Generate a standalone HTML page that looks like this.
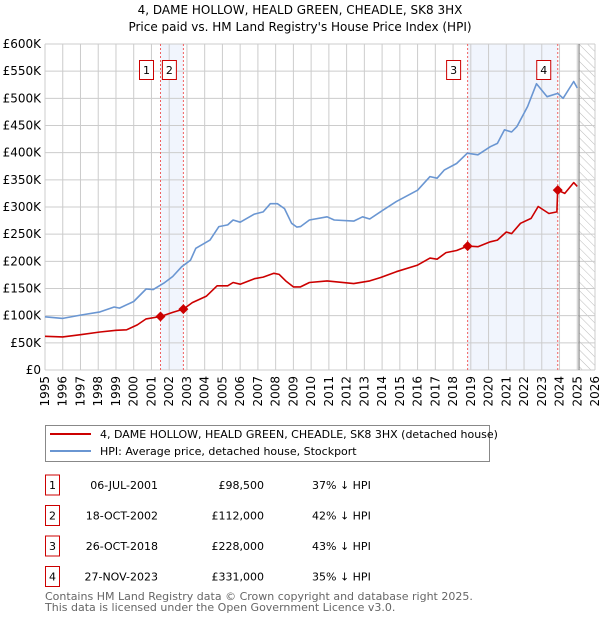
<!DOCTYPE html>
<html><head><meta charset="utf-8"><style>
body{margin:0;background:#fff;font-family:"DejaVu Sans","Liberation Sans",sans-serif;}
svg text{font-family:"DejaVu Sans","Liberation Sans",sans-serif;}
</style></head><body>
<svg id="chart" width="600" height="620" viewBox="0 0 600 620" xmlns="http://www.w3.org/2000/svg">
<defs><pattern id="hatch" width="6" height="6" patternUnits="userSpaceOnUse" patternTransform="rotate(-45)"><line x1="0" y1="0" x2="0" y2="6" stroke="#bbb" stroke-width="1"/></pattern></defs>
<text x="300" y="14" text-anchor="middle" font-size="12">4, DAME HOLLOW, HEALD GREEN, CHEADLE, SK8 3HX</text>
<text x="300" y="31" text-anchor="middle" font-size="12">Price paid vs. HM Land Registry's House Price Index (HPI)</text>
<g id="plot"></g>
<g>
<rect x="45.5" y="425.5" width="444" height="36" fill="#fff" stroke="#888"/>
<line x1="50" y1="434" x2="91" y2="434" stroke="#cc0000" stroke-width="2"/>
<text x="100" y="438" font-size="11">4, DAME HOLLOW, HEALD GREEN, CHEADLE, SK8 3HX (detached house)</text>
<line x1="50" y1="451" x2="91" y2="451" stroke="#6a96d2" stroke-width="2"/>
<text x="100" y="455" font-size="11">HPI: Average price, detached house, Stockport</text>
</g>
<g id="table"></g>
<text x="45" y="600" font-size="11" fill="#666">Contains HM Land Registry data © Crown copyright and database right 2025.</text>
<text x="45" y="611" font-size="11" fill="#666">This data is licensed under the Open Government Licence v3.0.</text>
</svg>
<script>
const hpiYears=[1995,1996,1997,1998.1,1998.9,1999.2,2000,2000.7,2001.1,2001.7,2002.2,2002.7,2003.2,2003.5,2004.3,2004.8,2005.3,2005.6,2006,2006.8,2007.3,2007.7,2008.1,2008.5,2008.9,2009.2,2009.4,2009.9,2010.9,2011.3,2012.4,2012.9,2013.3,2013.9,2014.8,2016,2016.7,2017.1,2017.5,2018.2,2018.8,2019.4,2020.1,2020.5,2020.9,2021.3,2021.6,2022.2,2022.7,2023.3,2023.9,2024.2,2024.8,2025];
const hpiValues=[98,95,101,107,116,114,126,149,148,160,172,190,202,224,239,264,267,276,272,287,291,306,306,297,270,263,264,276,282,276,274,282,278,291,310,331,356,353,368,380,399,396,411,417,442,438,448,485,527,503,509,500,531,519];
const ppYears=[1995,1996,1997,1998.1,1999,1999.6,2000.2,2000.7,2001.51,2002.2,2002.8,2003.3,2004.1,2004.7,2005.3,2005.6,2006,2006.8,2007.3,2007.9,2008.2,2008.6,2009,2009.4,2009.9,2010.9,2012.4,2013.3,2013.9,2014.8,2016,2016.7,2017.1,2017.6,2018.2,2018.82,2019.4,2020.1,2020.5,2021,2021.3,2021.8,2022.4,2022.8,2023.4,2023.85,2023.9,2024.3,2024.8,2025];
const ppValues=[62,61,65,70,73,74,83,94,98.5,106,112,124,136,155,155,161,158,168,171,178,176,163,153,153,161,164,159,164,170,181,193,206,204,216,220,228,227,236,239,254,251,270,279,301,288,291,331,325,345,338];
const saleLabels=["1","2","3","4"];
const saleYears=[2001.51,2002.8,2018.82,2023.9];
const saleValues=[98.5,112,228,331];
const saleDates=["06-JUL-2001","18-OCT-2002","26-OCT-2018","27-NOV-2023"];
const salePrices=["£98,500","£112,000","£228,000","£331,000"];
const saleDiffs=["37% ↓ HPI","42% ↓ HPI","43% ↓ HPI","35% ↓ HPI"];
const yTicks=[0,50,100,150,200,250,300,350,400,450,500,550,600];
const xTicks=[1995,1996,1997,1998,1999,2000,2001,2002,2003,2004,2005,2006,2007,2008,2009,2010,2011,2012,2013,2014,2015,2016,2017,2018,2019,2020,2021,2022,2023,2024,2025,2026];
const dataEnd=2025.1;

const NS="http://www.w3.org/2000/svg";
const X0=45,X1=595,Y0=370,Y1=44;
const xs=y=>X0+(y-1995)/(2026-1995)*(X1-X0);
const ys=v=>Y0-v/600*(Y0-Y1);
const plot=document.getElementById('plot');
function mk(tag,attrs,parent){const e=document.createElementNS(NS,tag);for(const k in attrs)e.setAttribute(k,attrs[k]);(parent||plot).appendChild(e);return e;}
// shading
for(let i=0;i<saleYears.length;i+=2){
 const r=mk('rect',{x:xs(saleYears[i]),y:Y1,width:xs(saleYears[i+1])-xs(saleYears[i]),height:Y0-Y1,fill:'#eef3fc',opacity:0.8});
 
 
}
const h=mk('rect',{x:xs(dataEnd),y:Y1,width:X1-xs(dataEnd),height:Y0-Y1,fill:'url(#hatch)'});


// grid
yTicks.forEach(t=>{
 const l=mk('line',{x1:X0,x2:X1,y1:ys(t),y2:ys(t),stroke:'#ccc'});
 
 
 const tx=mk('text',{x:X0-4,y:ys(t)+4,'text-anchor':'end','font-size':12});
 tx.textContent=t===0?'£0':'£'+t+'K';
 
 
});
xTicks.forEach(t=>{
 const l=mk('line',{x1:xs(t),x2:xs(t),y1:Y1,y2:Y0,stroke:'#ccc'});
 
 
 const tx=mk('text',{x:0,y:0,'text-anchor':'end','font-size':12,transform:`translate(${xs(t)+4},${Y0+6}) rotate(-90)`});
 tx.textContent=t;
 
 
});
const dl=mk('line',{x1:xs(dataEnd),x2:xs(dataEnd),y1:Y1,y2:Y0,stroke:'#888','stroke-width':1.2});


// sale markers
saleYears.forEach((y,i)=>{
 const l=mk('line',{x1:xs(y),x2:xs(y),y1:Y1,y2:Y0,stroke:'#f06060','stroke-dasharray':'2,2'});
 
 
 const g=mk('g',{});
 
 
 mk('rect',{x:xs(y)-21,y:60.5,width:14,height:19,fill:'#fff',stroke:'#cc0000'},g);
 const t=mk('text',{x:xs(y)-14,y:74,'text-anchor':'middle','font-size':11},g);
 t.textContent=saleLabels[i];
});
function line(xa,va,color,name){
 const d=xa.map((x,i)=>(i?'L':'M')+xs(x).toFixed(1)+','+ys(va[i]).toFixed(1)).join('');
 const p=mk('path',{d:d,fill:'none',stroke:color,'stroke-width':1.6,'stroke-linejoin':'round'});
 
 
}
line(hpiYears,hpiValues,'#6a96d2','hpi-line');
line(ppYears,ppValues,'#cc0000','price-paid-line');
saleYears.forEach((y,i)=>{
 const cx=xs(y),cy=ys(saleValues[i]);
 const p=mk('path',{d:`M${cx},${cy-5}L${cx+5},${cy}L${cx},${cy+5}L${cx-5},${cy}Z`,fill:'#cc0000'});
 
 
});
// table
const tb=document.getElementById('table');
saleLabels.forEach((s,i)=>{
 const y=485+i*30.5;
 const g=mk('g',{},tb);
 
 
 mk('rect',{x:45.5,y:y-10,width:14,height:20,fill:'#fff',stroke:'#cc0000'},g);
 const a=mk('text',{x:52.5,y:y+4,'text-anchor':'middle','font-size':11},g);a.textContent=s;
 const b=mk('text',{x:158,y:y+4,'text-anchor':'end','font-size':11},g);b.textContent=saleDates[i];
 const c=mk('text',{x:264,y:y+4,'text-anchor':'end','font-size':11},g);c.textContent=salePrices[i];
 const d=mk('text',{x:312,y:y+4,'font-size':11},g);d.textContent=saleDiffs[i];
});
</script>
</body></html>
